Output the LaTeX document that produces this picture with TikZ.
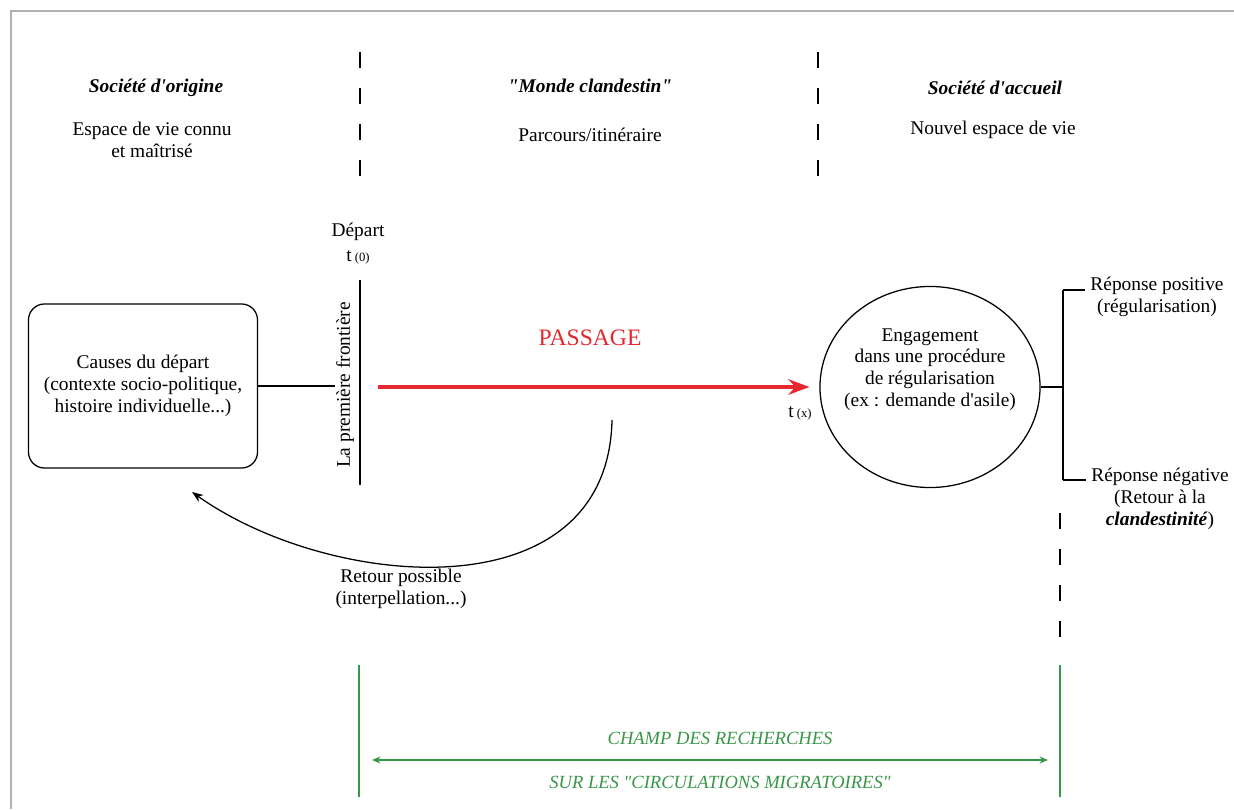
\documentclass[tikz,border=0pt]{standalone}
\usepackage{fontspec}
\setmainfont{Liberation Serif}[Ligatures=TeXOff]
\usetikzlibrary{positioning, shapes.geometric, arrows.meta}

\definecolor{passred}{RGB}{228,40,46}
\definecolor{champgreen}{RGB}{56,150,72}
\definecolor{framegray}{RGB}{175,175,175}

\begin{document}
\begin{tikzpicture} [x=0.025cm, y=-0.025cm, line width=0.9pt,
    font=\fontsize{13.8}{15.6}\selectfont,
    title/.style = {font=\fontsize{13.8}{15.6}\selectfont\bfseries\itshape},
    txt/.style = {align=center},
    box/.style = {draw, rounded corners=0.4cm, align=center,
        minimum width=5.725cm, minimum height=4.1cm},
    bubble/.style = {draw, ellipse, align=center, inner xsep=-12pt, inner ysep=0pt,
        minimum width=5.5cm, minimum height=5.025cm},
    sepline/.style = {line width=1.2pt, dash pattern=on 11.4pt off 14.2pt},
    champ/.style = {champgreen, line width=1pt},
    champtext/.style = {champgreen, font=\fontsize{13.2}{15}\selectfont\itshape}]

    \useasboundingbox (0,0) rectangle (1234,809);
    \draw [framegray, line width=1.5pt] (11,809) -- (11,11) -- (1234,11);

    % the three spaces
    \draw [sepline] (360,52) -- (360,176);
    \draw [sepline] (818,52) -- (818,176);
    \node (origine) [title] at (156,88) {Société d'origine};
    \node (connu) [txt] at (152,140) {Espace de vie connu\\et maîtrisé};
    \node (monde) [title] at (590,86) {"Monde clandestin"};
    \node (parcours) [txt] at (590,135) {Parcours/itinéraire};
    \node (accueil) [title] at (995,88) {Société d'accueil};
    \node (nouvel) [txt] at (993,130) {Nouvel espace de vie};

    % departure and first border
    \node (depart) at (358,232) {Départ};
    \node (t0) at (358,257) {t\,{\fontsize{9}{10}\selectfont(0)}};
    \coordinate (front top) at (360,280);
    \coordinate (front bot) at (360,485);
    \draw (front top) -- (front bot);
    \node (frontiere) [rotate=90] at (345,385) {La première frontière};

    \node (causes) [box] at (143,386)
        {Causes du départ\\(contexte socio-politique,\\histoire individuelle...)};
    \coordinate (causes end) at (335,386);
    \draw (causes) -- (causes end);

    % passage
    \coordinate (pass start) at (378,387);
    \node (engage) [bubble] at (930,387)
        {Engagement\\dans une procédure\\de régularisation\\(ex : demande d'asile)\\[12pt]};
    \draw [passred, line width=2.4pt, -{Stealth[length=15pt, width=11pt]},
        shorten >=7pt] (pass start) -- (engage.west);
    \node (passage) [passred, font=\fontsize{16.8}{18}\selectfont] at (590,338) {PASSAGE};
    \node (tx) at (800,413) {t\,{\fontsize{9}{10}\selectfont(x)}};

    % answers
    \coordinate (brk) at (1063,387);
    \coordinate (brk top) at (1063,290);
    \coordinate (brk bot) at (1063,480);
    \node (positive) [txt] at (1157,297) {Réponse positive\\(régularisation)};
    \node (negative) [txt] at (1160,499)
        {Réponse négative\\(Retour à la\\\textbf{\textit{clandestinité}})};
    \draw (engage.east) -- (brk);
    \draw (brk top) -- (brk bot);
    \draw (brk top) -- (positive.west |- brk top);
    \draw (brk bot) -- (negative.west |- brk bot);
    \draw [sepline] (1060,513) -- (1060,637);

    % way back
    \coordinate (ret start) at (612,420);
    \coordinate (ret end) at (192,492);
    \draw [-{Stealth[length=8pt, width=6pt]}]
        (ret start) .. controls (608,615) and (330,590) .. (ret end);
    \node (retour) [txt] at (401,589) {Retour possible\\(interpellation...)};

    % field of research
    \coordinate (champ lt) at (359,665);
    \coordinate (champ lb) at (359,797);
    \coordinate (champ rt) at (1060,665);
    \coordinate (champ rb) at (1060,797);
    \coordinate (champ l) at (372,760);
    \coordinate (champ r) at (1048,760);
    \draw [champ] (champ lt) -- (champ lb);
    \draw [champ] (champ rt) -- (champ rb);
    \draw [champ, {Stealth[length=6pt, width=5pt]}-{Stealth[length=6pt, width=5pt]}]
        (champ l) -- (champ r);
    \node (recherches) [champtext] at (720,738) {CHAMP DES RECHERCHES};
    \node (circulations) [champtext] at (720,782) {SUR LES "CIRCULATIONS MIGRATOIRES"};
\end{tikzpicture}
\end{document}
